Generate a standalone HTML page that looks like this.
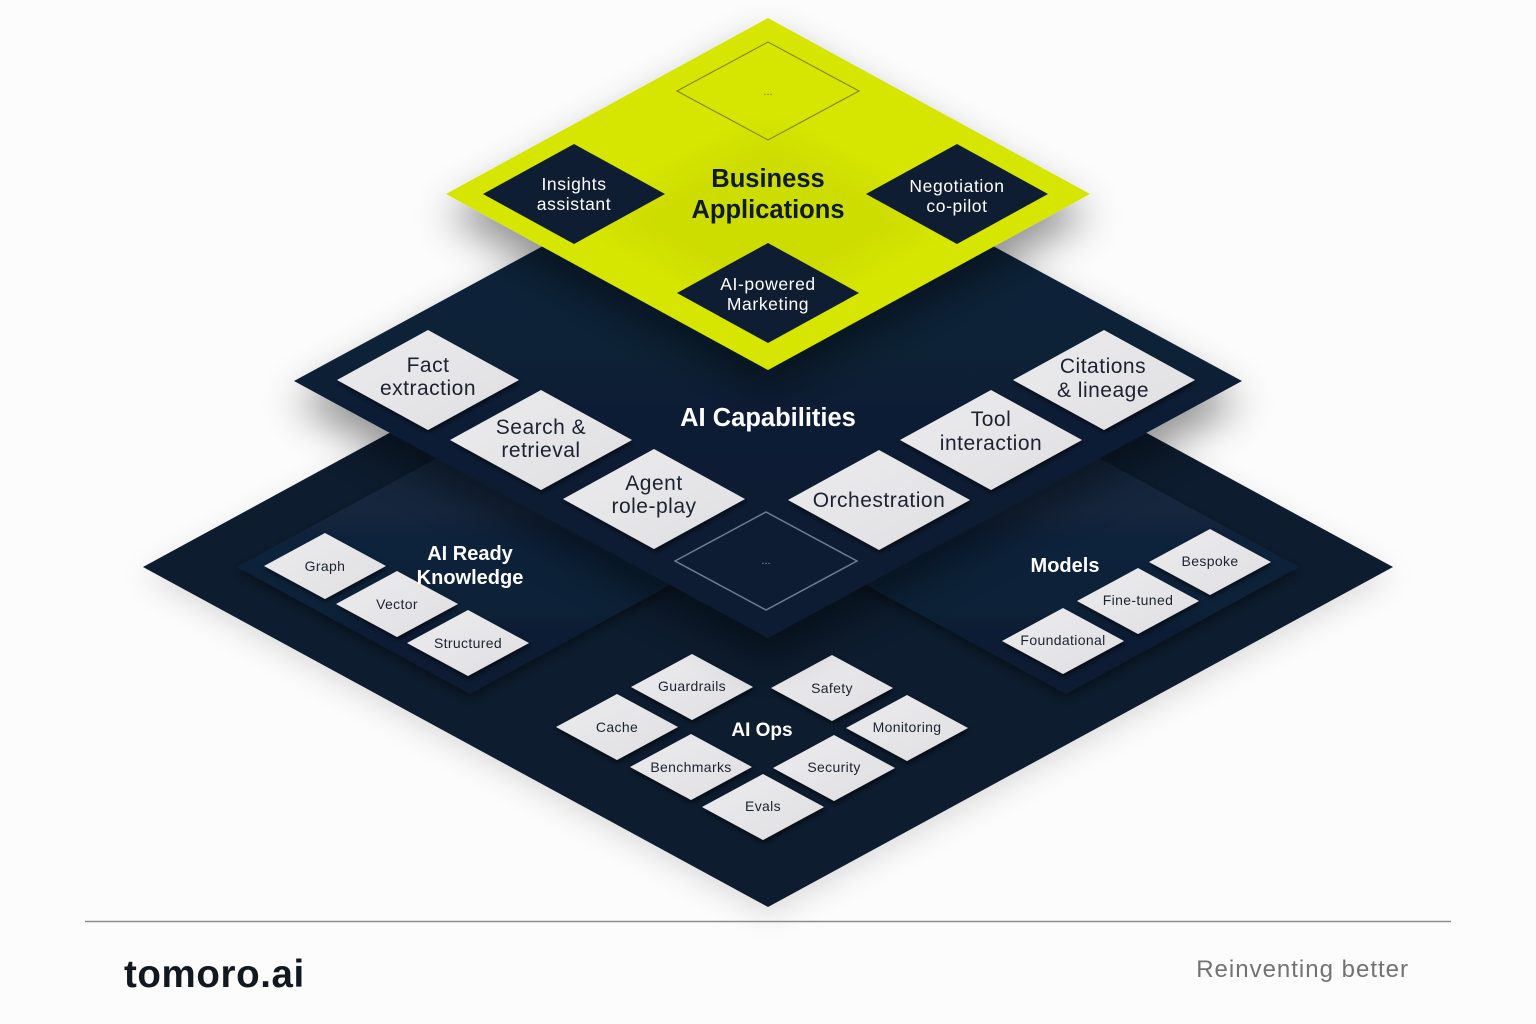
<!DOCTYPE html>
<html>
<head>
<meta charset="utf-8">
<style>
  html, body { margin:0; padding:0; background:#fcfcfd; }
  body { width:1536px; height:1024px; overflow:hidden; }
  svg { display:block; }
  text { font-family: "Liberation Sans", Arial, sans-serif; }
</style>
</head>
<body>
<svg width="1536" height="1024" viewBox="0 0 1536 1024" xmlns="http://www.w3.org/2000/svg">
  <defs>
    <filter id="layerShadow" x="-30%" y="-30%" width="160%" height="170%">
      <feDropShadow dx="0" dy="22" stdDeviation="20" flood-color="#000" flood-opacity="0.42"/>
    </filter>
    <filter id="baseShadow" x="-20%" y="-20%" width="140%" height="150%">
      <feDropShadow dx="0" dy="10" stdDeviation="14" flood-color="#000" flood-opacity="0.12"/>
    </filter>
    <filter id="subShadow" x="-20%" y="-20%" width="140%" height="150%">
      <feDropShadow dx="0" dy="5" stdDeviation="5" flood-color="#000" flood-opacity="0.4"/>
    </filter>
    <filter id="tileShadow" x="-20%" y="-30%" width="140%" height="170%">
      <feDropShadow dx="1" dy="3" stdDeviation="2" flood-color="#000" flood-opacity="0.55"/>
    </filter>
    <filter id="soft" x="-50%" y="-50%" width="200%" height="200%">
      <feGaussianBlur stdDeviation="16"/>
    </filter>
    <linearGradient id="subGrad" x1="0" y1="0" x2="0" y2="1">
      <stop offset="0" stop-color="#14283f"/>
      <stop offset="0.55" stop-color="#102239"/>
      <stop offset="1" stop-color="#0c1b30"/>
    </linearGradient>
    <linearGradient id="midGrad" x1="0" y1="0" x2="0" y2="1">
      <stop offset="0" stop-color="#12243b"/>
      <stop offset="1" stop-color="#0d1b30"/>
    </linearGradient>
    <linearGradient id="tileGrad" x1="0" y1="0" x2="1" y2="1">
      <stop offset="0" stop-color="#ececee"/>
      <stop offset="1" stop-color="#dfdfe2"/>
    </linearGradient>
    <polygon id="tileL" points="-91,0 0,-50 91,0 0,50"/>
    <polygon id="tileS" points="-61,0 0,-33 61,0 0,33"/>
  </defs>

  <!-- Bottom layer -->
  <polygon points="143,567 768,227 1393,567 768,907" fill="#0b1a2f" filter="url(#baseShadow)"/>
  <!-- sub-platforms -->
  <polygon points="237,567 470,440 703,567 470,694" fill="url(#subGrad)" filter="url(#subShadow)"/>
  <polygon points="833,567 1066,440 1299,567 1066,694" fill="url(#subGrad)" filter="url(#subShadow)"/>

  <!-- Bottom tiles -->
  <g fill="url(#tileGrad)" filter="url(#tileShadow)">
    <use href="#tileS" x="325" y="566"/>
    <use href="#tileS" x="397" y="604"/>
    <use href="#tileS" x="468" y="643"/>
    <use href="#tileS" x="1210" y="562"/>
    <use href="#tileS" x="1138" y="601"/>
    <use href="#tileS" x="1063" y="641"/>
    <use href="#tileS" x="692" y="687"/>
    <use href="#tileS" x="832" y="688"/>
    <use href="#tileS" x="617" y="727"/>
    <use href="#tileS" x="907" y="728"/>
    <use href="#tileS" x="691" y="767"/>
    <use href="#tileS" x="834" y="768"/>
    <use href="#tileS" x="763" y="807"/>
  </g>
  <g fill="#1c2230" font-size="14" text-anchor="middle" style="letter-spacing:0.35px">
    <text x="325" y="571">Graph</text>
    <text x="397" y="609">Vector</text>
    <text x="468" y="648">Structured</text>
    <text x="1210" y="566">Bespoke</text>
    <text x="1138" y="605">Fine-tuned</text>
    <text x="1063" y="645">Foundational</text>
    <text x="692" y="691">Guardrails</text>
    <text x="832" y="693">Safety</text>
    <text x="617" y="732">Cache</text>
    <text x="907" y="732">Monitoring</text>
    <text x="691" y="772">Benchmarks</text>
    <text x="834" y="772">Security</text>
    <text x="763" y="811">Evals</text>
  </g>
  <g fill="#ffffff" font-weight="bold" text-anchor="middle">
    <text x="470" y="560" font-size="20">AI Ready</text>
    <text x="470" y="584" font-size="20">Knowledge</text>
    <text x="1065" y="572" font-size="20">Models</text>
    <text x="762" y="736" font-size="19">AI Ops</text>
  </g>

  <!-- Middle layer -->
  <polygon points="294,381 768,124 1242,381 768,638" fill="url(#midGrad)" filter="url(#layerShadow)"/>
  <polygon points="675,561 766,512 857,561 766,610" fill="none" stroke="#6d7c8e" stroke-width="1.5"/>
  <text x="766" y="564" fill="#8c98a6" font-size="11" text-anchor="middle">...</text>

  <g fill="url(#tileGrad)" filter="url(#tileShadow)">
    <use href="#tileL" x="428" y="380"/>
    <use href="#tileL" x="541" y="440"/>
    <use href="#tileL" x="654" y="499"/>
    <use href="#tileL" x="879" y="500"/>
    <use href="#tileL" x="991" y="440"/>
    <use href="#tileL" x="1104" y="380"/>
  </g>
  <g fill="#1c2230" font-size="21" text-anchor="middle" style="letter-spacing:0.5px">
    <text x="428" y="372">Fact</text>
    <text x="428" y="395">extraction</text>
    <text x="541" y="434">Search &amp;</text>
    <text x="541" y="457">retrieval</text>
    <text x="654" y="490">Agent</text>
    <text x="654" y="513">role-play</text>
    <text x="879" y="507">Orchestration</text>
    <text x="991" y="426">Tool</text>
    <text x="991" y="450">interaction</text>
    <text x="1103" y="373">Citations</text>
    <text x="1103" y="397">&amp; lineage</text>
  </g>
  <text x="768" y="426" fill="#ffffff" font-size="25.5" font-weight="bold" text-anchor="middle">AI Capabilities</text>

  <!-- Top (yellow) layer -->
  <polygon points="446,194 768,18 1090,194 768,370" fill="#d6e600" filter="url(#layerShadow)"/>
  <polygon points="598,220 768,127 938,220 768,313" fill="#000" opacity="0.035" filter="url(#soft)"/>
  <polygon points="677,91 768,42 859,91 768,140" fill="none" stroke="#7f8c06" stroke-width="1.2"/>
  <text x="768" y="95" fill="#6f7a10" font-size="11" text-anchor="middle">...</text>

  <g fill="#0f1d33">
    <use href="#tileL" x="574" y="194"/>
    <use href="#tileL" x="957" y="194"/>
    <use href="#tileL" x="768" y="293"/>
  </g>
  <g fill="#ffffff" font-size="17.5" text-anchor="middle" style="letter-spacing:0.6px">
    <text x="574" y="190">Insights</text>
    <text x="574" y="210">assistant</text>
    <text x="957" y="192">Negotiation</text>
    <text x="957" y="212">co-pilot</text>
    <text x="768" y="290">AI-powered</text>
    <text x="768" y="310">Marketing</text>
  </g>
  <g fill="#0f1a2c" font-size="25.5" font-weight="bold" text-anchor="middle">
    <text x="768" y="187">Business</text>
    <text x="768" y="218">Applications</text>
  </g>

  <!-- Footer -->
  <line x1="85" y1="921.5" x2="1451" y2="921.5" stroke="#8c8c8c" stroke-width="1.6"/>
  <text x="124" y="987" fill="#121820" font-size="38.5" font-weight="bold" style="letter-spacing:0.6px">tomoro.ai</text>
  <text x="1409" y="977" fill="#727272" font-size="24" text-anchor="end" style="letter-spacing:1px">Reinventing better</text>
</svg>
</body>
</html>
